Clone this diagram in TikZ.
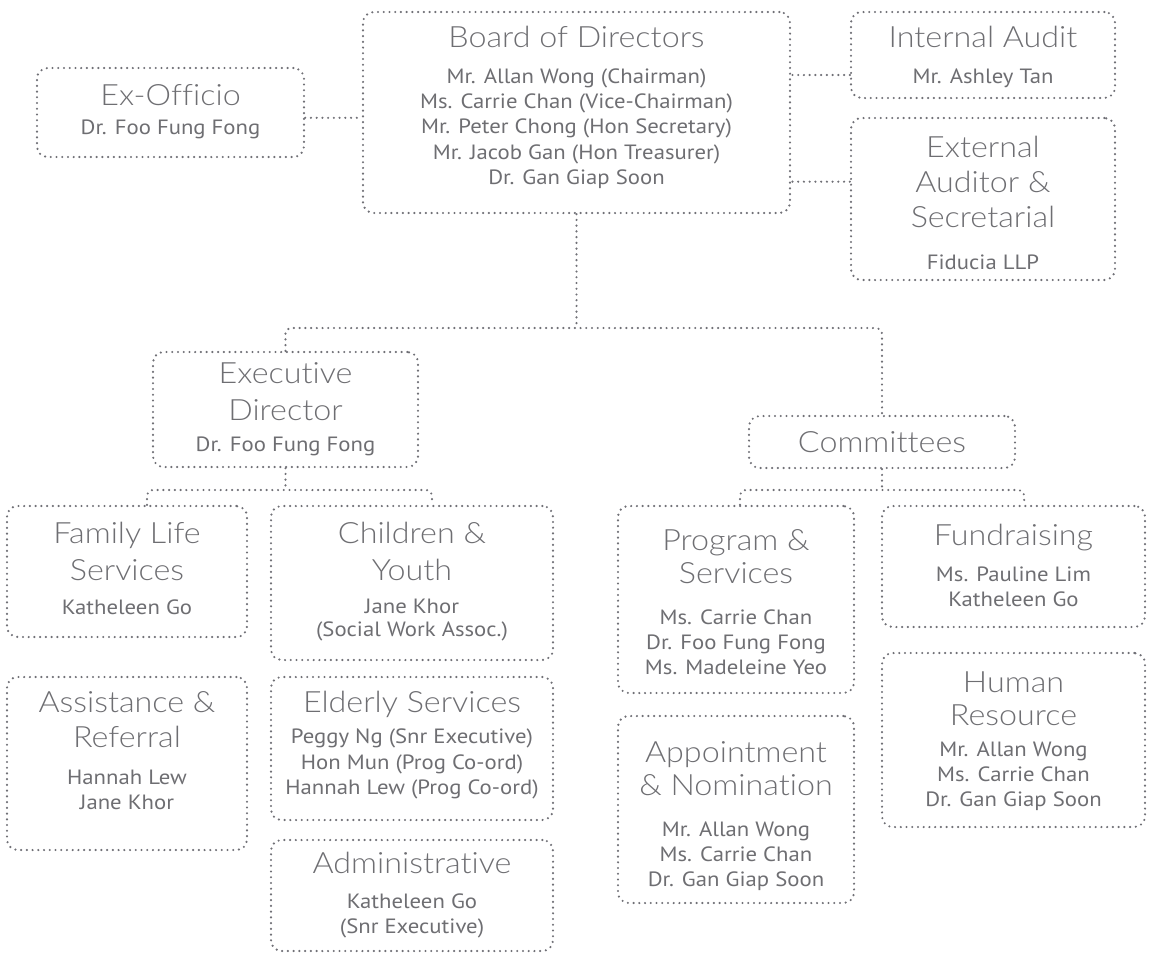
\documentclass[tikz,border=0pt]{standalone}
\usepackage{fontspec}
\setmainfont{PT Sans}
\newfontfamily\titlefont{Lato Light}[Ligatures=NoCommon, FakeStretch=1.1]
\newfontfamily\namefont{PT Sans}[FakeStretch=1.1]
\definecolor{txt}{RGB}{110,110,114}
\definecolor{ttxt}{RGB}{110,110,114}
\definecolor{dotc}{RGB}{112,112,118}
\newcommand\mybox[5]{\node[box, minimum width={(#4-#2)*0.75pt}, minimum height={(#5-#3)*0.75pt}] (#1) at ({(#2+#4)/2},{(#3+#5)/2}) {};}
\newcommand\ttline[4]{\node[ttl] (#1) at (#2,#3) {#4};}
\newcommand\nmline[4]{\node[nm] (#1) at (#2,#3) {#4};}
\begin{document}
\begin{tikzpicture}[x=0.75pt,y=-0.75pt,
  box/.style={draw=dotc, line width=1.8pt, dash pattern=on 0pt off 4.3pt, line cap=round, rounded corners=8pt, inner sep=0pt},
  conn/.style={draw=dotc, line width=1.8pt, dash pattern=on 0pt off 4.3pt, line cap=round},
  ttl/.style={font=\titlefont\fontsize{22}{26}\selectfont, text=ttxt, anchor=base, inner sep=0pt},
  nm/.style={font=\namefont\fontsize{15.5}{18}\selectfont, text=txt, anchor=base, inner sep=0pt}]
\useasboundingbox (0,0) rectangle (1151,954);

% boxes
\mybox{ex}{37}{68}{304}{157}
\mybox{board}{363}{12}{790}{213}
\mybox{ia}{851}{12}{1115}{98}
\mybox{ea}{851}{118}{1115}{280}
\mybox{ed}{153}{352}{418}{467}
\mybox{com}{749}{416}{1015}{468}
\mybox{fl}{7}{506}{247}{637}
\mybox{cy}{271}{506}{553}{660}
\mybox{ar}{7}{677}{247}{850}
\mybox{es}{271}{677}{553}{820}
\mybox{ad}{271}{840}{553}{951}
\mybox{ps}{618}{506}{854}{693}
\mybox{fr}{882}{506}{1145}{627}
\mybox{an}{618}{716}{854}{903}
\mybox{hr}{882}{653}{1145}{827}

% texts
\ttline{tex}{170.5}{105}{Ex-Officio}
\nmline{nex}{170.5}{134}{Dr. Foo Fung Fong}

\ttline{tboard}{576.5}{47}{Board of Directors}
\nmline{nb1}{576.5}{83}{Mr. Allan Wong (Chairman)}
\nmline{nb2}{576.5}{108}{Ms. Carrie Chan (Vice-Chairman)}
\nmline{nb3}{576.5}{133}{Mr. Peter Chong (Hon Secretary)}
\nmline{nb4}{576.5}{159}{Mr. Jacob Gan (Hon Treasurer)}
\nmline{nb5}{576.5}{184}{Dr. Gan Giap Soon}

\ttline{tia}{983}{47}{Internal Audit}
\nmline{nia}{983}{83}{Mr. Ashley Tan}

\ttline{tea1}{983}{157}{External}
\ttline{tea2}{983}{192}{Auditor \&}
\ttline{tea3}{983}{227}{Secretarial}
\nmline{nea}{983}{269}{Fiducia LLP}

\ttline{ted1}{285.5}{383}{Executive}
\ttline{ted2}{285.5}{420}{Director}
\nmline{ned}{285.5}{451}{Dr. Foo Fung Fong}

\ttline{tcom}{882}{452}{Committees}

\ttline{tfl1}{127}{543}{Family Life}
\ttline{tfl2}{127}{580}{Services}
\nmline{nfl}{127}{614}{Katheleen Go}

\ttline{tcy1}{412}{543}{Children \&}
\ttline{tcy2}{412}{580}{Youth}
\nmline{ncy1}{412}{613}{Jane Khor}
\nmline{ncy2}{412}{636}{(Social Work Assoc.)}

\ttline{tar1}{127}{712}{Assistance \&}
\ttline{tar2}{127}{747}{Referral}
\nmline{nar1}{127}{784}{Hannah Lew}
\nmline{nar2}{127}{809}{Jane Khor}

\ttline{tes}{412}{712}{Elderly Services}
\nmline{nes1}{412}{743}{Peggy Ng (Snr Executive)}
\nmline{nes2}{412}{769}{Hon Mun (Prog Co-ord)}
\nmline{nes3}{412}{794}{Hannah Lew (Prog Co-ord)}

\ttline{tad}{412}{873}{Administrative}
\nmline{nad1}{412}{908}{Katheleen Go}
\nmline{nad2}{412}{933}{(Snr Executive)}

\ttline{tps1}{736}{550}{Program \&}
\ttline{tps2}{736}{583}{Services}
\nmline{nps1}{736}{624}{Ms. Carrie Chan}
\nmline{nps2}{736}{649}{Dr. Foo Fung Fong}
\nmline{nps3}{736}{674}{Ms. Madeleine Yeo}

\ttline{tfr}{1013.5}{545}{Fundraising}
\nmline{nfr1}{1013.5}{581}{Ms. Pauline Lim}
\nmline{nfr2}{1013.5}{606}{Katheleen Go}

\ttline{tan1}{736}{762}{Appointment}
\ttline{tan2}{736}{795}{\& Nomination}
\nmline{nan1}{736}{836}{Mr. Allan Wong}
\nmline{nan2}{736}{861}{Ms. Carrie Chan}
\nmline{nan3}{736}{886}{Dr. Gan Giap Soon}

\ttline{thr1}{1013.5}{692}{Human}
\ttline{thr2}{1013.5}{725}{Resource}
\nmline{nhr1}{1013.5}{756}{Mr. Allan Wong}
\nmline{nhr2}{1013.5}{781}{Ms. Carrie Chan}
\nmline{nhr3}{1013.5}{806}{Dr. Gan Giap Soon}

% connectors
\draw[conn] ([yshift=-4pt]ex.east) -- ([yshift=-4pt]ex.east -| board.west);
\draw[conn] ([yshift=-15pt]ia.west) -- ([yshift=-15pt]ia.west -| board.east);
\draw[conn] ([yshift=13pt]ea.west) -- ([yshift=13pt]ea.west -| board.east);

\coordinate (j1) at (576.5,328);
\draw[conn] (board.south) -- (j1);
\draw[conn, rounded corners=4pt] (ed.north) |- (j1) -| (com.north);

\coordinate (j2) at (285.5,490);
\draw[conn] (ed.south) -- (j2);
\draw[conn, rounded corners=4pt] ([xshift=15pt]fl.north) |- (j2) -| ([xshift=15pt]cy.north);

\coordinate (j3) at (882,490);
\draw[conn] (com.south) -- (j3);
\draw[conn, rounded corners=4pt] ([xshift=3pt]ps.north) |- (j3) -| ([xshift=8pt]fr.north);
\end{tikzpicture}
\end{document}
